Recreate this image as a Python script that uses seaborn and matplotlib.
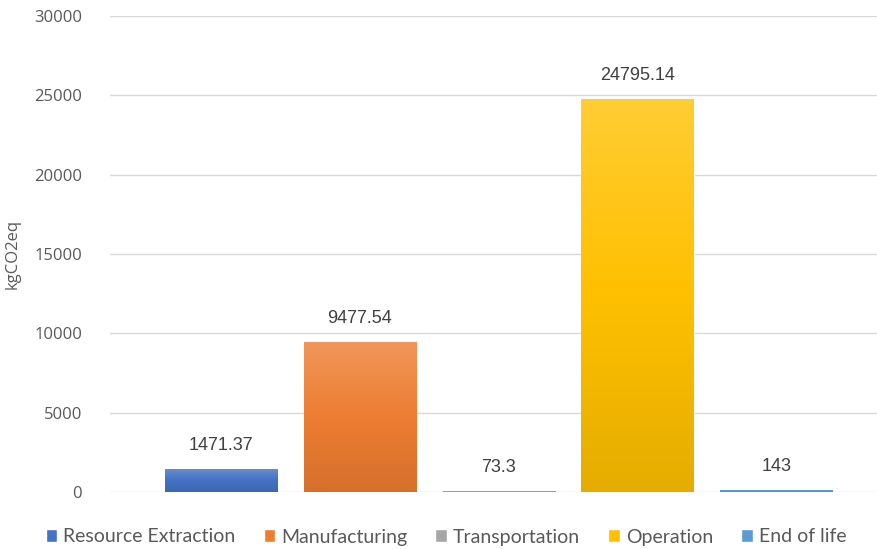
import numpy as np
import pandas as pd
import matplotlib.pyplot as plt
import matplotlib.colors as mcolors
import seaborn as sns

# data
stages = ["Resource Extraction", "Manufacturing", "Transportation",
          "Operation", "End of life"]
emissions = [1471.37, 9477.54, 73.3, 24795.14, 143]
value_labels = ["1471.37", "9477.54", "73.3", "24795.14", "143"]
colors = ["#4472C4", "#ED7D31", "#A5A5A5", "#FFC000", "#5B9BD5"]

df = pd.DataFrame({"stage": stages, "kg": emissions})

sns.set_theme(style="white")
plt.rcParams["font.family"] = ["Open Sans", "DejaVu Sans"]

fig = plt.figure(figsize=(8.78, 5.49), dpi=100)
ax = fig.add_axes([110 / 878, 1 - 492 / 549, 1 - 110 / 878, (492 - 16) / 549])

sns.barplot(data=df, x="stage", y="kg", hue="stage", order=stages,
            hue_order=stages, palette=colors, dodge=False, width=0.81,
            saturation=1, legend=True, ax=ax)

# excel-like vertical gradient on every bar (light top, darker bottom)
for patch, c in zip(ax.patches, colors):
    x0, y0 = patch.get_x(), patch.get_y()
    w, h = patch.get_width(), patch.get_height()
    if h <= 0:
        continue
    base = np.array(mcolors.to_rgb(c))
    top = base + (1 - base) * 0.2
    bottom = base * 0.9
    t = np.linspace(0, 1, 100)[:, None]  # 0 = top
    grad = np.where(t < 0.5, top + (base - top) * (t / 0.5),
                    base + (bottom - base) * ((t - 0.5) / 0.5))
    img = ax.imshow(grad[:, None, :], extent=(x0, x0 + w, y0, y0 + h),
                    origin="upper", aspect="auto",
                    zorder=patch.get_zorder() + 0.1, interpolation="bilinear")
    img.set_clip_path(patch)

# data labels
for i, (v, lab) in enumerate(zip(emissions, value_labels)):
    ax.annotate(lab, (i, v), xytext=(0, 16.5), textcoords="offset points",
                ha="center", va="center", fontsize=13, color="#404040",
                family=["Liberation Sans", "DejaVu Sans"])

# axes
ax.set_xlim(-0.80, 4.73)
ax.set_ylim(0, 30000)
ax.set_yticks(range(0, 30001, 5000))
ax.tick_params(axis="y", labelsize=12, labelcolor="#595959", length=0, pad=20)
ax.set_xticks([])
ax.set_xlabel("")
ax.set_ylabel("kgCO2eq", fontsize=12, color="#595959", labelpad=10)
ax.yaxis.grid(True, color="#d9d9d9", linewidth=1)
ax.set_axisbelow(True)
sns.despine(ax=ax, left=True, bottom=True)

# legend
handles, labels = ax.get_legend_handles_labels()
ax.legend_.remove()
fig.legend(handles, labels, loc="center", bbox_to_anchor=(0.508, 1 - 537 / 549),
           ncol=5, frameon=False, handlelength=0.6, handleheight=0.6,
           handletextpad=0.3, columnspacing=1.45,
           prop={"family": ["Lato", "DejaVu Sans"], "size": 14},
           labelcolor="#595959")

plt.savefig("out.png", dpi=100)
